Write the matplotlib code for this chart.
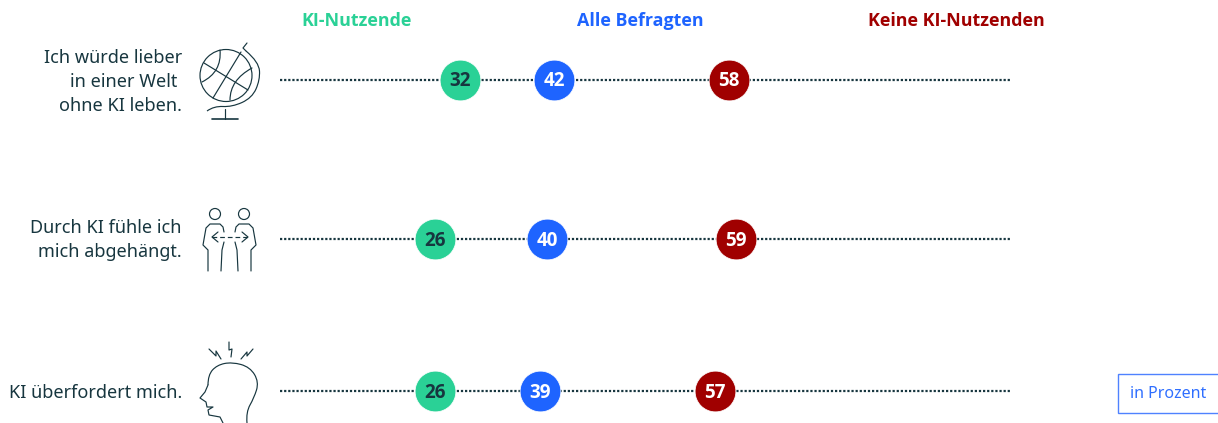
import matplotlib
matplotlib.use('Agg')
import matplotlib.pyplot as plt
import numpy as np
from matplotlib.path import Path
from matplotlib.patches import PathPatch, Circle, Rectangle

plt.rcParams['font.family'] = ['Noto Sans', 'DejaVu Sans']
BOLD = ['Open Sans', 'DejaVu Sans']

# Data
labels = ['Ich würde lieber\nin einer Welt \nohne KI leben.', 'Durch KI fühle ich\nmich abgehängt.', 'KI überfordert mich.']
series = ['KI-Nutzende', 'Alle Befragten', 'Keine KI-Nutzenden']
nutzende = [32, 26, 26]
alle = [42, 40, 39]
keine = [58, 59, 57]

DARK = '#17363f'
GREEN = '#2ad196'
BLUE = '#1e64ff'
RED = '#a00000'
colors = [GREEN, BLUE, RED]
text_colors = [DARK, 'white', 'white']

row_y = [80, 239, 391]

# the original axis is not linear, this follows where the values sit in it
scale_vals = [0, 26, 32, 39, 40, 42, 57, 58, 59, 100]
scale_pos = [0, 155, 180, 260, 267, 274, 435, 449, 456, 731]


def forward(v):
    return np.interp(v, scale_vals, scale_pos)


def inverse(p):
    return np.interp(p, scale_pos, scale_vals)


fig = plt.figure(figsize=(12.18, 4.23), dpi=100)

# overlay in pixels for texts and icons
bg = fig.add_axes([0, 0, 1, 1])
bg.set_xlim(0, 1218)
bg.set_ylim(423, 0)
bg.axis('off')

ax = fig.add_axes([280 / 1218, 0, 731 / 1218, 1])
ax.set_xscale('function', functions=(forward, inverse))
ax.set_xlim(0, 100)
ax.set_ylim(423, 0)
ax.axis('off')
ax.patch.set_alpha(0)

for i, y in enumerate(row_y):
    ax.plot([0, 100], [y + 0.5, y + 0.5], color=DARK, lw=1.6, ls=(0, (1, 0.85)), zorder=1)
    for vals, c, tc in zip([nutzende, alle, keine], colors, text_colors):
        ax.scatter(vals[i], y + 0.5, s=860, color=c, edgecolors='white', linewidths=0.5, zorder=2)
        ax.text(vals[i], y + 1.5, str(vals[i]), color=tc, fontsize=13.5, fontweight='bold',
                family=BOLD, ha='center', va='center', zorder=3)

# header
for name, x, c in zip(series, [357, 640, 956], colors):
    bg.text(x, 21.5, name, color=c, fontsize=12.85, fontweight='bold', family=BOLD, ha='center', va='center')

# row labels
for lab, y, ty in zip(labels, row_y, [82, 240, 392.5]):
    bg.text(182, ty, lab, color=DARK, fontsize=13, ha='right', va='center', linespacing=1.42)


def stroke(pts, lw=0.85, curve=False):
    pts = list(pts)
    if curve:
        codes = [Path.MOVETO] + [Path.CURVE3] * (len(pts) - 1)
    else:
        codes = [Path.MOVETO] + [Path.LINETO] * (len(pts) - 1)
    bg.add_patch(PathPatch(Path(pts, codes), fill=False, ec=DARK, lw=lw, clip_on=False,
                           capstyle='round', joinstyle='round'))


def smooth(pts, lw=0.85):
    # quadratic pieces through midpoints
    pts = list(pts)
    verts = [pts[0]]
    codes = [Path.MOVETO]
    for a, b in zip(pts[1:-1], pts[2:]):
        verts += [a, ((a[0] + b[0]) / 2, (a[1] + b[1]) / 2)]
        codes += [Path.CURVE3, Path.CURVE3]
    verts[-1] = pts[-1]
    bg.add_patch(PathPatch(Path(verts, codes), fill=False, ec=DARK, lw=lw, clip_on=False))


# globe
bg.add_patch(Circle((226, 75.5), 26, fill=False, ec=DARK, lw=0.85))
stroke([(204, 63), (248, 90)])
stroke([(241, 52), (213, 98)])
stroke([(220, 50), (222, 72), (202, 82)], curve=True)
stroke([(252, 68), (230, 80), (230, 100)], curve=True)
stroke([(247, 43), (243, 48), (246, 51)])
smooth([(246, 51), (259, 62), (260, 80), (252, 98), (232, 107), (214, 106), (207, 111)])
stroke([(225, 109), (225, 119)])
stroke([(212, 119), (238, 119)], lw=1.2)

# two people
for cx, m in [(215, 1), (244, -1)]:
    bg.add_patch(Circle((cx, 214), 5.5, fill=False, ec=DARK, lw=0.85))
    pts = [(-7, 271), (-7, 250), (-12, 245), (-9, 228), (-5, 224), (5, 224), (8, 227), (9, 232)]
    stroke([(cx + m * a, b) for a, b in pts])
    pts = [(9, 242), (7, 250), (6, 271)]
    stroke([(cx + m * a, b) for a, b in pts])
bg.plot([212, 248], [237, 237], color=DARK, lw=0.85, ls=(0, (4, 2.5)))
stroke([(218, 232), (212, 237), (218, 242)])
stroke([(242, 232), (248, 237), (242, 242)])

# head
smooth([(208, 385), (208, 375), (217, 365), (232, 362), (250, 367), (259, 382),
        (254, 398), (246, 412), (247, 423)])
stroke([(208, 385), (205, 392), (200, 398), (206, 402), (207, 407), (213, 407), (208, 410),
        (209, 415), (220, 417), (223, 423)])
stroke([(209, 349), (216, 356), (216, 351), (221, 359)])
stroke([(229, 342), (229, 350), (232, 349), (231, 357)])
stroke([(241, 359), (247, 352), (247, 356), (253, 349)])

# unit box
bg.add_patch(Rectangle((1117.5, 374.5), 101, 39, fill=False, ec='#4f82ff', lw=1.0, clip_on=False))
bg.text(1168, 394.5, 'in Prozent', color='#2f6fff', fontsize=11.5, ha='center', va='center')

fig.savefig('out.png', dpi=100)
